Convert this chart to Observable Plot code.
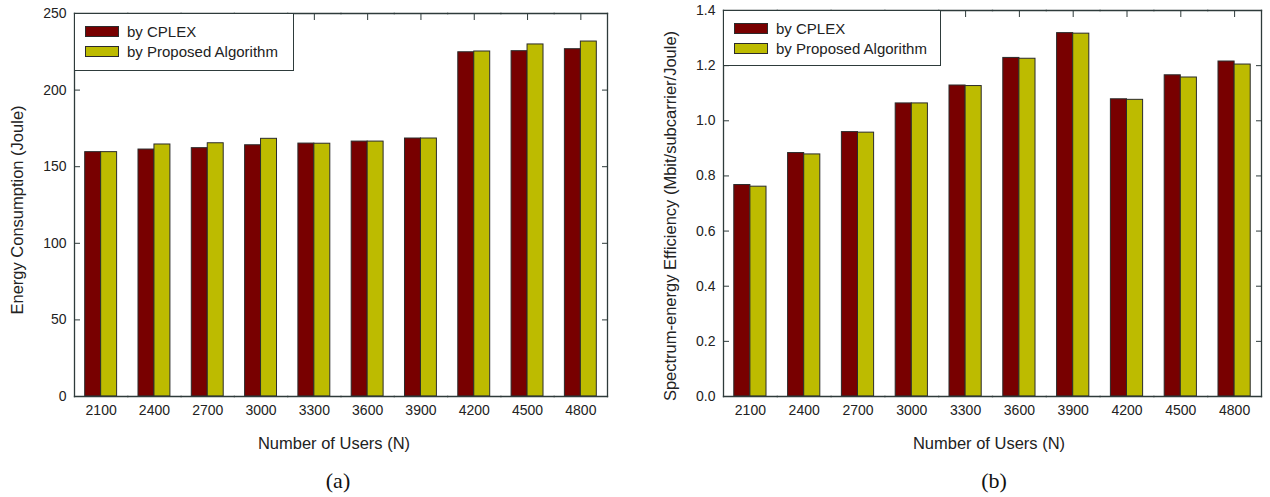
<!DOCTYPE html>
<html>
<head>
<meta charset="utf-8">
<script src="https://cdn.jsdelivr.net/npm/d3@7"></script>
<script src="https://cdn.jsdelivr.net/npm/@observablehq/plot@0.6"></script>
<style>
  html, body { margin: 0; padding: 0; background: #fff; }
  body { width: 1270px; height: 497px; position: relative; overflow: hidden;
         font-family: "Liberation Sans", Arial, sans-serif; color: #222; }
  .panel { position: absolute; top: 0; }
  .legend { position: absolute; background: #fff; border: 1px solid #2e3b3b; box-sizing: border-box; z-index: 2; }
  .sw { position: absolute; width: 34px; height: 11px; border: 1px solid #2b2b2b; box-sizing: border-box; }
  .lt { position: absolute; font-size: 15px; line-height: 15px; white-space: nowrap; color: #222; }
  .xl { position: absolute; font-size: 16.5px; white-space: nowrap; transform: translate(-50%, -50%); color: #222; }
  .yl { position: absolute; font-size: 16.5px; white-space: nowrap; transform: translate(-50%, -50%) rotate(-90deg); color: #222; }
  .cap { position: absolute; font-family: "Liberation Serif", "Times New Roman", serif; font-size: 22px; transform: translate(-50%, -50%); color: #111; }
</style>
</head>
<body>
<div id="a" class="panel" style="left:0px"></div>
<div id="b" class="panel" style="left:635px"></div>
<script>
// ---- data ----
const users = ["2100", "2400", "2700", "3000", "3300", "3600", "3900", "4200", "4500", "4800"];
const seriesNames = ["by CPLEX", "by Proposed Algorithm"];
const seriesColors = ["#780000", "#bdbb00"];

const energyCplex    = [159.5, 161.2, 162.1, 164.0, 165.1, 166.4, 168.4, 224.7, 225.4, 226.7];
const energyProposed = [159.5, 164.5, 165.3, 168.2, 165.0, 166.4, 168.4, 225.2, 229.8, 231.7];
const energyTicks    = [0, 50, 100, 150, 200, 250];

const effCplex    = [0.767, 0.883, 0.959, 1.063, 1.128, 1.228, 1.318, 1.078, 1.165, 1.215];
const effProposed = [0.761, 0.878, 0.957, 1.063, 1.126, 1.225, 1.316, 1.076, 1.157, 1.204];
const effTicks    = [0, 0.2, 0.4, 0.6, 0.8, 1.0, 1.2, 1.4];

const xLabel = "Number of Users (N)";
const yLabelA = "Energy Consumption (Joule)";
const yLabelB = "Spectrum-energy Efficiency (Mbit/subcarrier/Joule)";
const captions = ["(a)", "(b)"];

const frameColor = "#2e3b3b";

function makeChart({cplex, proposed, yDomain, yTicks, yFormat, marginLeft, marginRight, marginTop}) {
  const data = users.flatMap((u, i) => [
    {users: u, series: seriesNames[0], value: cplex[i]},
    {users: u, series: seriesNames[1], value: proposed[i]}
  ]);
  return Plot.plot({
    width: 635,
    height: 460,
    marginLeft, marginRight, marginTop,
    marginBottom: 64,
    style: {fontFamily: "'Liberation Sans', Arial, sans-serif", fontSize: "14px", color: "#222", background: "transparent", overflow: "visible"},
    fx: {domain: users, padding: 0, round: false, label: null},
    x: {domain: seriesNames, paddingInner: 0, paddingOuter: 0.67, round: false, axis: null},
    y: {domain: yDomain, label: null},
    color: {domain: seriesNames, range: seriesColors},
    marks: [
      Plot.barY(data, {fx: "users", x: "series", y: "value", fill: "series", stroke: "#2b2b2b", strokeWidth: 1}),
      Plot.frame({anchor: "top", stroke: frameColor, strokeWidth: 1.3}),
      Plot.frame({anchor: "bottom", stroke: frameColor, strokeWidth: 1.3}),
      Plot.frame({anchor: "left", facetAnchor: "left", stroke: frameColor, strokeWidth: 1.3}),
      Plot.frame({anchor: "right", facetAnchor: "right", stroke: frameColor, strokeWidth: 1.3}),
      Plot.axisY({anchor: "left", ticks: yTicks, tickFormat: yFormat, tickSize: -6, tickPadding: 14, stroke: frameColor, fontSize: 14, label: null}),
      Plot.axisY({anchor: "right", ticks: yTicks, tickFormat: () => "", tickSize: -6, tickPadding: 0, stroke: frameColor, label: null}),
      Plot.axisFx({anchor: "top", tickFormat: () => "", tickSize: -6, tickPadding: 0, stroke: frameColor, label: null}),
      Plot.axisFx({anchor: "bottom", tickSize: 0, tickPadding: 9, fontSize: 14, label: null})
    ]
  });
}

document.getElementById("a").append(makeChart({
  cplex: energyCplex, proposed: energyProposed, yDomain: [0, 250], yTicks: energyTicks,
  yFormat: d3.format("d"), marginLeft: 74, marginRight: 28, marginTop: 13
}));
document.getElementById("b").append(makeChart({
  cplex: effCplex, proposed: effProposed, yDomain: [0, 1.4], yTicks: effTicks,
  yFormat: d3.format(".1f"), marginLeft: 88, marginRight: 9, marginTop: 10
}));

// ---- legends, axis titles, captions ----
function addEl(cls, text, css) {
  const el = document.createElement("div");
  el.className = cls;
  if (text != null) el.textContent = text;
  Object.assign(el.style, css);
  document.body.append(el);
  return el;
}
function addLegend(left, top, w, h) {
  addEl("legend", null, {left: left + "px", top: top + "px", width: w + "px", height: h + "px"});
  seriesNames.forEach((name, i) => {
    const y = top + 13 + i * 20;
    addEl("sw", null, {left: (left + 11) + "px", top: y + "px", background: seriesColors[i], zIndex: 3});
    addEl("lt", name, {left: (left + 53) + "px", top: (y - 2) + "px", zIndex: 3});
  });
}
addLegend(74, 13, 220, 58);
addLegend(723, 10, 218, 56);

addEl("xl", xLabel, {left: "334px", top: "443px"});
addEl("xl", xLabel, {left: "989px", top: "443px"});
addEl("yl", yLabelA, {left: "17px", top: "210px"});
addEl("yl", yLabelB, {left: "670px", top: "216px"});
addEl("cap", captions[0], {left: "338px", top: "481px"});
addEl("cap", captions[1], {left: "994px", top: "481px"});
</script>
</body>
</html>
